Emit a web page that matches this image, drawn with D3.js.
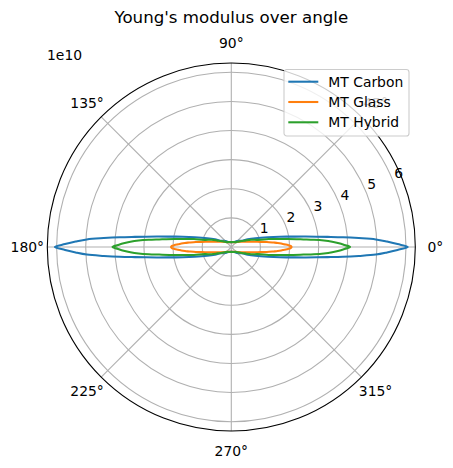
<!DOCTYPE html>
<html>
<head>
<meta charset="utf-8">
<script src="https://cdn.jsdelivr.net/npm/d3@7"></script>
<style>
  body { margin: 0; background: #fff; }
  text { font-family: 'DejaVu Sans', sans-serif; }
</style>
</head>
<body>
<div id="chart"></div>
<script>
// angles (deg) of the first quadrant, the curves are mirrored into the others
const angles = [0, 1, 2, 3, 4, 5, 6, 8, 10, 12, 15, 20, 25, 30, 40, 50, 60, 75, 90];
// Young's modulus in units of 1e10
const carbon = [6.06, 5.71, 5.35, 4.97, 4.39, 3.85, 3.33, 2.58, 2.05, 1.70, 1.30, 0.88, 0.62, 0.43, 0.33, 0.26, 0.20, 0.17, 0.155];
const glass  = [2.07, 2.04, 1.95, 1.82, 1.72, 1.60, 1.46, 1.23, 1.02, 0.86, 0.70, 0.53, 0.42, 0.36, 0.27, 0.22, 0.19, 0.17, 0.165];
const hybrid = [4.08, 3.89, 3.70, 3.47, 3.19, 2.85, 2.49, 1.97, 1.58, 1.31, 0.95, 0.72, 0.52, 0.41, 0.28, 0.22, 0.20, 0.18, 0.17];
const seriesNames = ['MT Carbon', 'MT Glass', 'MT Hybrid'];
const seriesColors = ['#1f77b4', '#ff7f0e', '#2ca02c'];
const thetaTicks = [0, 45, 90, 135, 180, 225, 270, 315];

const width = 453;
const height = 468;
const cx = 231.3;
const cy = 247;
const R = 184;
const fontSize = '13.9px';
const gridColor = '#b0b0b0';

const rScale = d3.scaleLinear().domain([0, 6.32]).range([0, R]);
const toRad = deg => deg * Math.PI / 180;

// mirror the quadrant values around the full circle
function fullCurve(values) {
  const pts = [];
  angles.forEach((a, i) => pts.push([a, values[i]]));
  for (let i = angles.length - 2; i >= 0; i--) pts.push([180 - angles[i], values[i]]);
  for (let i = 1; i < angles.length; i++) pts.push([180 + angles[i], values[i]]);
  for (let i = angles.length - 2; i > 0; i--) pts.push([360 - angles[i], values[i]]);
  return pts;
}

const svg = d3.select('#chart')
  .append('svg')
    .attr('width', width)
    .attr('height', height);

const g = svg.append('g')
  .attr('transform', `translate(${cx},${cy})`);

// grid circles
const rTicks = rScale.ticks(6).filter(t => t > 0);
g.selectAll('.rgrid')
  .data(rTicks)
  .join('circle')
    .attr('class', 'rgrid')
    .attr('r', d => rScale(d))
    .attr('fill', 'none')
    .attr('stroke', gridColor)
    .attr('stroke-width', 1.1);

// spokes
g.selectAll('.tgrid')
  .data(thetaTicks)
  .join('line')
    .attr('class', 'tgrid')
    .attr('x1', 0).attr('y1', 0)
    .attr('x2', d => R * Math.cos(toRad(d)))
    .attr('y2', d => -R * Math.sin(toRad(d)))
    .attr('stroke', gridColor)
    .attr('stroke-width', 1.1);

// curves
const line = d3.lineRadial()
  .angle(d => Math.PI / 2 - toRad(d[0]))
  .radius(d => rScale(d[1]))
  .curve(d3.curveCatmullRomClosed.alpha(0.5));

[carbon, glass, hybrid].forEach((vals, i) => {
  g.append('path')
    .attr('d', line(fullCurve(vals)))
    .attr('fill', 'none')
    .attr('stroke', seriesColors[i])
    .attr('stroke-width', 2.08)
    .attr('stroke-linejoin', 'round');
});

// outer spine
g.append('circle')
  .attr('r', R)
  .attr('fill', 'none')
  .attr('stroke', 'black')
  .attr('stroke-width', 1.1);

// theta labels
g.selectAll('.tlabel')
  .data(thetaTicks)
  .join('text')
    .attr('class', 'tlabel')
    .attr('x', d => 204 * Math.cos(toRad(d)))
    .attr('y', d => -204 * Math.sin(toRad(d)))
    .attr('dy', '0.35em')
    .attr('text-anchor', 'middle')
    .style('font-size', fontSize)
    .text(d => d + '°');

// radial labels along 22.5 deg
const rlAngle = toRad(22.5);
g.selectAll('.rlabel')
  .data(rTicks)
  .join('text')
    .attr('class', 'rlabel')
    .attr('x', d => rScale(d) * Math.cos(rlAngle) + 1.5)
    .attr('y', d => -rScale(d) * Math.sin(rlAngle) - 2.5)
    .style('font-size', fontSize)
    .text(d => d);

svg.append('text')
  .attr('x', 47)
  .attr('y', 60)
  .style('font-size', fontSize)
  .text('1e10');

svg.append('text')
  .attr('x', cx)
  .attr('y', 23)
  .attr('text-anchor', 'middle')
  .style('font-size', '16.67px')
  .text("Young's modulus over angle");

// legend
const legend = svg.append('g')
  .attr('transform', 'translate(284,69.5)');

legend.append('rect')
  .attr('width', 125)
  .attr('height', 66.5)
  .attr('rx', 2.8)
  .attr('fill', 'white')
  .attr('fill-opacity', 0.8)
  .attr('stroke', '#cccccc')
  .attr('stroke-width', 1.1);

seriesNames.forEach((name, i) => {
  const y = 12.2 + i * 20.3;
  legend.append('line')
    .attr('x1', 4.3).attr('x2', 34.3)
    .attr('y1', y).attr('y2', y)
    .attr('stroke', seriesColors[i])
    .attr('stroke-width', 2.08);
  legend.append('text')
    .attr('x', 44.3)
    .attr('y', y)
    .attr('dy', '0.36em')
    .style('font-size', fontSize)
    .text(name);
});
</script>
</body>
</html>
